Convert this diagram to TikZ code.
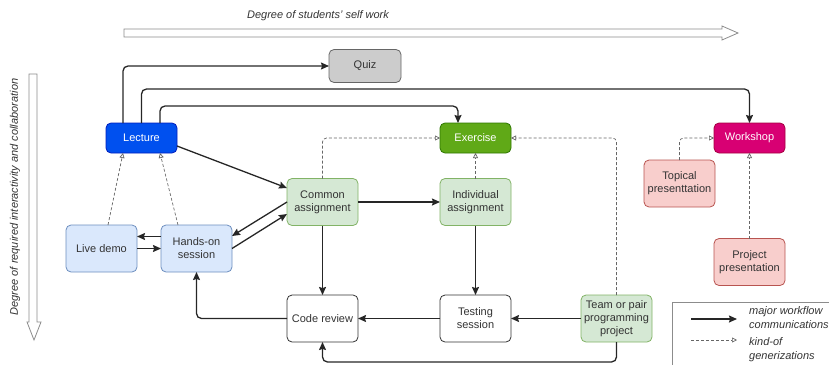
\documentclass[tikz,border=0pt]{standalone}
\usepackage{fontspec}
\setmainfont{Liberation Sans}
\usetikzlibrary{arrows.meta}
\definecolor{ink}{HTML}{333333}
\definecolor{lectfill}{HTML}{0050EF}\definecolor{lectline}{HTML}{001DBC}
\definecolor{exfill}{HTML}{60A917}\definecolor{exline}{HTML}{2D7600}
\definecolor{wsfill}{HTML}{D80073}\definecolor{wsline}{HTML}{A50040}
\definecolor{gfill}{HTML}{D5E8D4}\definecolor{gline}{HTML}{82B366}
\definecolor{bfill}{HTML}{DAE8FC}\definecolor{bline}{HTML}{6C8EBF}
\definecolor{rfill}{HTML}{F8CECC}\definecolor{rline}{HTML}{B85450}
\definecolor{qfill}{HTML}{CCCCCC}\definecolor{qline}{HTML}{666666}
\definecolor{hollow}{HTML}{8C8C8C}
\begin{document}
\begin{tikzpicture}[x=1pt,y=-1pt,
  card/.style={draw=#1, rounded corners=5pt, minimum width=71pt, minimum height=47pt,
    inner sep=0pt, outer sep=0pt, align=center, line width=0.8pt, text=ink,
    font=\fontsize{11}{13}\selectfont},
  head/.style={card=#1, minimum height=30pt, text=white},
  flow/.style={line width=1.3pt, draw=black!85, rounded corners=5pt,
    -{Stealth[length=8pt,width=7pt,inset=1pt]}},
  gen/.style={densely dashed, line width=0.7pt, draw=black!60, rounded corners=4pt,
    -{Triangle[open,length=5pt,width=5pt]}},
  axislabel/.style={font=\fontsize{11}{13}\selectfont\itshape, text=ink},
  bigarrow/.style={draw=hollow, fill=white, line width=0.8pt, line join=miter}]
\useasboundingbox (0,0) rectangle (829,364);
\clip (0,0) rectangle (829,364);

% axes
\draw[bigarrow] (124,29) -- (722,29) -- (722,26) -- (738,33) -- (722,40) -- (722,37) -- (124,37) -- cycle;
\node[axislabel] (selfwork) at (318,16) {Degree of students' self work};
\draw[bigarrow] (29,74) -- (29,322) -- (27,322) -- (34,340) -- (41,322) -- (37,322) -- (37,74) -- cycle;
\node[axislabel, rotate=90] (interact) at (15,197) {Degree of required interactivity and collaboration};

% headline activities
\node[head=qline, fill=qfill, text=ink, minimum width=72pt, minimum height=33pt] (quiz) at (365,66) {Quiz};
\node[head=lectline, fill=lectfill] (lecture) at (141.5,138) {Lecture};
\node[head=exline, fill=exfill] (exercise) at (475.5,138) {Exercise};
\node[head=wsline, fill=wsfill] (workshop) at (749.5,138) {Workshop};

% concrete activities
\node[card=gline, fill=gfill] (common) at (322.5,202) {Common\\assignment};
\node[card=gline, fill=gfill] (indiv) at (475.5,202) {Individual\\assignment};
\node[card=rline, fill=rfill] (topical) at (679.5,183.5) {Topical\\presenttation};
\node[card=bline, fill=bfill] (live) at (101.5,248.5) {Live demo};
\node[card=bline, fill=bfill] (hands) at (196.5,248.5) {Hands-on\\session};
\node[card=rline, fill=rfill] (project) at (749.5,262) {Project\\presentation};
\node[card=ink, fill=white] (code) at (322.5,318.5) {Code review};
\node[card=ink, fill=white] (testing) at (475.5,318.5) {Testing\\session};
\node[card=gline, fill=gfill] (team) at (616.5,318.5) {Team or pair\\programming\\project};

% major workflow
\draw[flow] ([xshift=-18.5pt]lecture.north) |- (quiz.west);
\draw[flow] (lecture.north) -- ++(0,-34) -| (workshop.north);
\draw[flow] ([xshift=18.5pt]lecture.north) -- ++(0,-17) -| ([xshift=-17.5pt]exercise.north);
\draw[flow] ([yshift=-8pt]lecture.east) -- ([yshift=14pt]common.west);
\draw[flow] (common.west) -- ([yshift=12.5pt]hands.east);
\draw[flow] (hands.east) -- ([yshift=-12pt]common.west);
\draw[flow] ([yshift=12pt]hands.west) -- ([yshift=12pt]live.east);
\draw[flow] (live.east) -- (hands.west);
\draw[flow] (common.east) -- (indiv.west);
\draw[flow] (common.south) -- (code.north);
\draw[flow] (indiv.south) -- (testing.north);
\draw[flow] (testing.west) -- (code.east);
\draw[flow] (team.west) -- (testing.east);
\draw[flow] (code.west) -| (hands.south);
\draw[flow] (team.south) -- ++(0,20) -| (code.south);

% generalisations
\draw[gen] ([xshift=6.5pt]live.north) -- ([xshift=-18.5pt]lecture.south);
\draw[gen] ([xshift=-18.5pt]hands.north) -- ([xshift=18.5pt]lecture.south);
\draw[gen] (common.north) |- (exercise.west);
\draw[gen] (indiv.north) -- (exercise.south);
\draw[gen] (team.north) |- (exercise.east);
\draw[gen] (topical.north) |- (workshop.west);
\draw[gen] (project.north) -- (workshop.south);

% legend
\draw[draw=hollow, line width=0.8pt] (672,302) rectangle (860,390);
\coordinate (solidA) at (691,319);
\coordinate (solidB) at (737,319);
\coordinate (dashA) at (691,340);
\coordinate (dashB) at (737,340);
\draw[flow] (solidA) -- (solidB);
\draw[gen] (dashA) -- (dashB);
\node[axislabel, anchor=north west, align=left, inner sep=0pt, font=\fontsize{11}{14}\selectfont\itshape] (legA) at (749,306) {major workflow\\communications};
\node[axislabel, anchor=north west, align=left, inner sep=0pt, font=\fontsize{11}{14}\selectfont\itshape] (legB) at (749,337) {kind-of\\generizations};
\end{tikzpicture}
\end{document}
